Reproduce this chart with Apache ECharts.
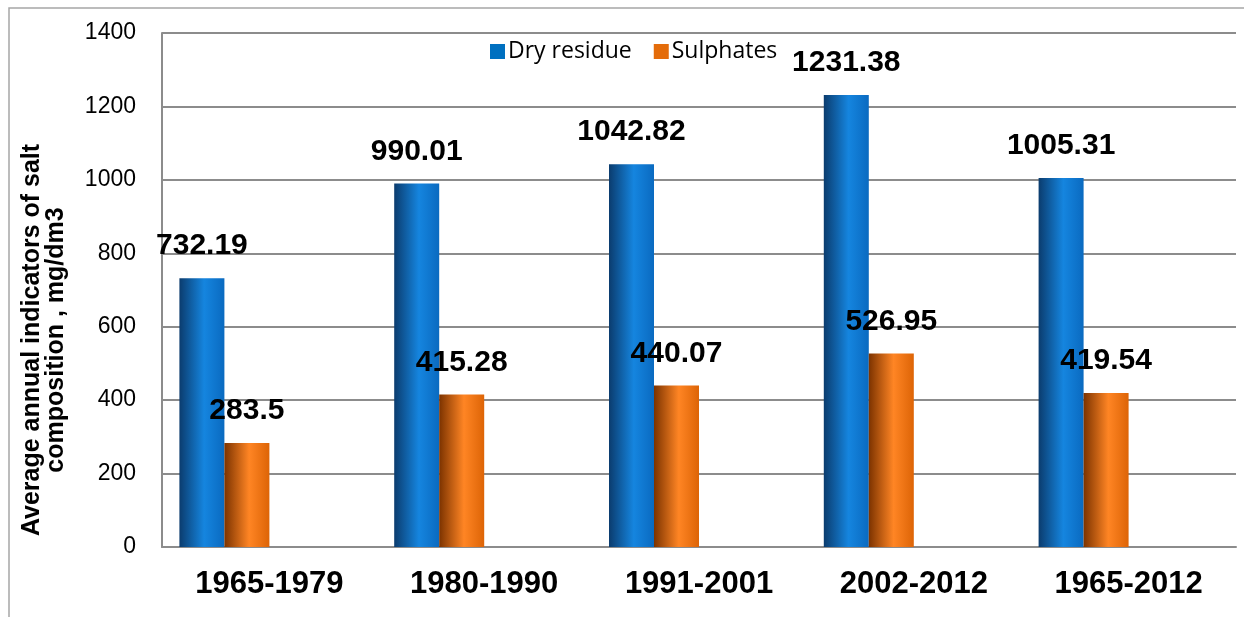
<!DOCTYPE html>
<html>

<head>
    <meta charset="utf-8">
    <title>Salt composition</title>
    <style>
        html, body { margin: 0; padding: 0; background: #fff; }
        #chart-container { width: 1244px; height: 617px; }
    </style>
    <script src="https://cdn.jsdelivr.net/npm/echarts@6/dist/echarts.min.js"></script>
</head>

<body>
    <div id="chart-container"></div>
    <script>
        // data
        const periods = ['1965-1979', '1980-1990', '1991-2001', '2002-2012', '1965-2012'];
        const dryResidue = [732.19, 990.01, 1042.82, 1231.38, 1005.31];
        const sulphates = [283.5, 415.28, 440.07, 526.95, 419.54];
        const yTicks = [0, 200, 400, 600, 800, 1000, 1200, 1400];

        var dom = document.getElementById('chart-container');
        var myChart = echarts.init(dom, null, { renderer: 'canvas' });

        function grad(c0, c1, c2) {
            return new echarts.graphic.LinearGradient(0, 0, 1, 0, [
                { offset: 0, color: c0 },
                { offset: 0.55, color: c1 },
                { offset: 1, color: c2 }
            ]);
        }

        const valueLabel = {
            show: true,
            position: 'top',
            distance: 17,
            color: '#000',
            fontFamily: 'Liberation Sans, Arial',
            fontWeight: 'bold',
            fontSize: 30
        };

        var option = {
            animation: false,
            graphic: [{
                type: 'rect',
                shape: { x: 9, y: 8, width: 1260, height: 640 },
                style: { fill: 'none', stroke: '#a6a6a6', lineWidth: 1.5 },
                silent: true
            }],
            legend: {
                data: [
                    { name: 'Dry residue', itemStyle: { color: '#0070c0' } },
                    { name: 'Sulphates', itemStyle: { color: '#e46c0a' } }
                ],
                left: 485,
                top: 35,
                itemWidth: 15,
                itemHeight: 15,
                itemGap: 22,
                icon: 'rect',
                textStyle: { color: '#000', fontFamily: 'Open Sans', fontSize: 23, padding: [0, 0, 0, -2] }
            },
            grid: { left: 162, right: 8, top: 33, bottom: 70, containLabel: false },
            xAxis: {
                type: 'category',
                data: periods,
                axisLine: { lineStyle: { color: '#8c8c8c', width: 2 } },
                axisTick: { show: false },
                axisLabel: {
                    margin: 22,
                    color: '#000',
                    fontFamily: 'Liberation Sans, Arial',
                    fontWeight: 'bold',
                    fontSize: 31
                }
            },
            yAxis: {
                type: 'value',
                min: yTicks[0],
                max: yTicks[yTicks.length - 1],
                interval: 200,
                name: 'Average annual indicators of salt\ncomposition , mg/dm3',
                nameLocation: 'middle',
                nameGap: 94,
                nameTextStyle: {
                    color: '#000',
                    fontFamily: 'Liberation Sans, Arial',
                    fontWeight: 'bold',
                    fontSize: 25,
                    lineHeight: 24,
                    padding: [0, 100, 0, 0]
                },
                axisLine: { show: true, lineStyle: { color: '#8c8c8c', width: 2 } },
                axisTick: { show: false },
                axisLabel: {
                    margin: 26,
                    color: '#000',
                    fontFamily: 'Liberation Sans, Arial',
                    fontSize: 23,
                    formatter: function (v) { return String(v); }
                },
                splitLine: { lineStyle: { color: '#8c8c8c', width: 2 } }
            },
            series: [
                {
                    name: 'Dry residue',
                    type: 'bar',
                    data: dryResidue,
                    barWidth: 45,
                    barGap: '0%',
                    itemStyle: { color: grad('#0b3c6e', '#1585df', '#0a6ac0') },
                    label: valueLabel
                },
                {
                    name: 'Sulphates',
                    type: 'bar',
                    data: sulphates,
                    barWidth: 45,
                    barGap: '0%',
                    itemStyle: { color: grad('#7c3300', '#ff8524', '#dd6406') },
                    label: valueLabel
                },
                // two empty series, as in the source chart, keep the bars left of centre
                { name: 'empty1', type: 'bar', data: [], barWidth: 45, barGap: '0%' },
                { name: 'empty2', type: 'bar', data: [], barWidth: 45, barGap: '0%' }
            ]
        };

        myChart.setOption(option);
        window.addEventListener('resize', myChart.resize);
    </script>
</body>

</html>
